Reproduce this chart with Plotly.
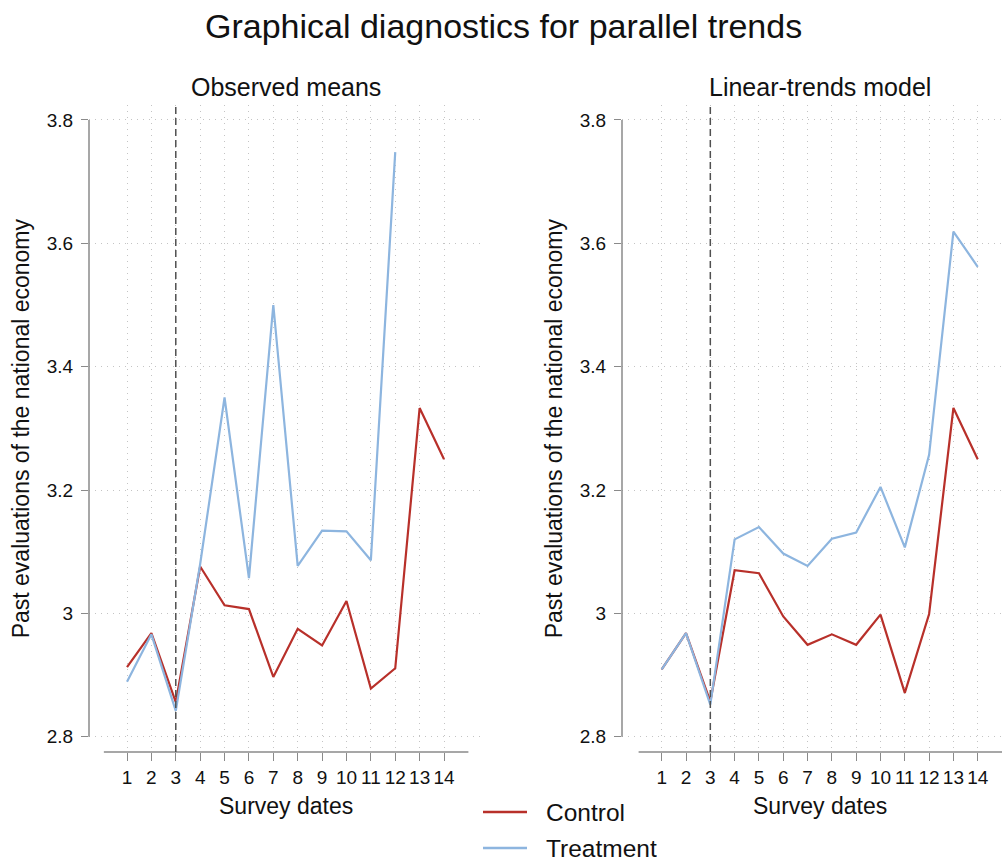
import plotly.graph_objects as go

# ---- data -------------------------------------------------------------
dates = list(range(1, 15))
date_labels = [str(d) for d in dates]

# Observed means (treatment series only runs through survey 12)
obs_control = [2.913, 2.968, 2.856, 3.076, 3.013, 3.007, 2.897, 2.975, 2.948, 3.020, 2.878, 2.911, 3.333, 3.250]
obs_treatment = [2.889, 2.966, 2.842, 3.080, 3.350, 3.057, 3.500, 3.077, 3.134, 3.133, 3.086, 3.748]

# Linear-trends model predictions
lin_control = [2.909, 2.968, 2.857, 3.070, 3.065, 2.995, 2.949, 2.966, 2.949, 2.998, 2.871, 2.999, 3.333, 3.250]
lin_treatment = [2.909, 2.968, 2.852, 3.120, 3.140, 3.097, 3.077, 3.121, 3.131, 3.205, 3.107, 3.257, 3.619, 3.562]

y_ticks = [2.8, 3.0, 3.2, 3.4, 3.6, 3.8]
y_tick_labels = ["2.8", "3", "3.2", "3.4", "3.6", "3.8"]
treatment_start = 3

panel_titles = ["Observed means", "Linear-trends model"]
series_names = ["Control", "Treatment"]

# ---- styling ----------------------------------------------------------
W, H = 1006, 860
FONT = "Liberation Sans, Arial, Helvetica, sans-serif"
RED = "#b8302a"
BLUE = "#8db5df"
AXIS_GREY = "#8a8a8a"
GRID_GREY = "#c4c4c4"
TEXT = "#111111"

# panel geometry in pixels: (left, right) of the plot box, x range
Y_TOP_PX, Y_BOT_PX = 105, 752
Y_RANGE = [2.7752, 3.8243]
panels = [
    dict(px=(89, 482), xrange=[-0.559, 15.558]),
    dict(px=(622, 1006), xrange=[-0.633, 15.163]),
]
X_LINE_SPAN = (0.05, 15.0)


def dom_x(px):
    return px / W


def dom_y(py):
    return 1 - py / H


y_domain = [dom_y(Y_BOT_PX), dom_y(Y_TOP_PX)]


def data_to_paper(v, dom, rng):
    return dom[0] + (v - rng[0]) / (rng[1] - rng[0]) * (dom[1] - dom[0])


fig = go.Figure()

datasets = [(obs_control, obs_treatment), (lin_control, lin_treatment)]
for i, (ctrl, trt) in enumerate(datasets):
    xa = "x" if i == 0 else "x2"
    ya = "y" if i == 0 else "y2"
    fig.add_trace(go.Scatter(x=dates[:len(ctrl)], y=ctrl, mode="lines",
                             line=dict(color=RED, width=2.2), name=series_names[0],
                             showlegend=False, xaxis=xa, yaxis=ya))
    fig.add_trace(go.Scatter(x=dates[:len(trt)], y=trt, mode="lines",
                             line=dict(color=BLUE, width=2.2), name=series_names[1],
                             showlegend=False, xaxis=xa, yaxis=ya))

axis_common = dict(showline=False, zeroline=False, showgrid=True,
                   gridcolor=GRID_GREY, griddash="1px,5px", gridwidth=1,
                   ticks="outside", tickcolor=AXIS_GREY, tickwidth=1.4,
                   tickfont=dict(family=FONT, size=19, color=TEXT))

layout = dict(width=W, height=H, autosize=False,
              margin=dict(l=0, r=0, t=0, b=0),
              paper_bgcolor="white", plot_bgcolor="white",
              showlegend=False, font=dict(family=FONT, color=TEXT))

shapes = []
annotations = []
for i, p in enumerate(panels):
    sfx = "" if i == 0 else "2"
    xdom = [dom_x(p["px"][0]), dom_x(p["px"][1])]
    layout["xaxis" + sfx] = dict(domain=xdom, range=p["xrange"], anchor="y" + sfx,
                                 tickmode="array", tickvals=dates, ticktext=date_labels,
                                 ticklen=8, **axis_common)
    layout["yaxis" + sfx] = dict(domain=y_domain, range=Y_RANGE, anchor="x" + sfx,
                                 tickmode="array", tickvals=y_ticks, ticktext=y_tick_labels,
                                 ticklen=7, ticklabelstandoff=4, **axis_common)

    # detached axis lines
    shapes.append(dict(type="line", xref="paper", yref="paper",
                       x0=xdom[0], x1=xdom[0],
                       y0=data_to_paper(y_ticks[0], y_domain, Y_RANGE),
                       y1=data_to_paper(y_ticks[-1], y_domain, Y_RANGE),
                       line=dict(color=AXIS_GREY, width=1.5)))
    shapes.append(dict(type="line", xref="paper", yref="paper",
                       x0=data_to_paper(X_LINE_SPAN[0], xdom, p["xrange"]),
                       x1=data_to_paper(X_LINE_SPAN[1], xdom, p["xrange"]),
                       y0=y_domain[0], y1=y_domain[0],
                       line=dict(color=AXIS_GREY, width=1.5)))
    # treatment onset marker
    shapes.append(dict(type="line", xref="x" + sfx, yref="y" + sfx + " domain",
                       x0=treatment_start, x1=treatment_start, y0=0, y1=1,
                       line=dict(color="#505050", width=1.5, dash="7px,4px")))

    centre_x = data_to_paper((dates[0] + dates[-1]) / 2, xdom, p["xrange"])
    annotations.append(dict(text=panel_titles[i], xref="paper", yref="paper",
                            x=centre_x, y=dom_y(87), xanchor="center", yanchor="middle",
                            showarrow=False, font=dict(family=FONT, size=25, color=TEXT)))
    annotations.append(dict(text="Survey dates", xref="paper", yref="paper",
                            x=centre_x, y=dom_y(806), xanchor="center", yanchor="middle",
                            showarrow=False, font=dict(family=FONT, size=23, color=TEXT)))
    annotations.append(dict(text="Past evaluations of the national economy",
                            xref="paper", yref="paper",
                            x=dom_x(21 if i == 0 else 554),
                            y=data_to_paper(3.3, y_domain, Y_RANGE),
                            xanchor="center", yanchor="middle", textangle=-90,
                            showarrow=False, font=dict(family=FONT, size=23, color=TEXT)))

# overall title
annotations.append(dict(text="Graphical diagnostics for parallel trends",
                        xref="paper", yref="paper", x=0.5, y=dom_y(26),
                        xanchor="center", yanchor="middle", showarrow=False,
                        font=dict(family=FONT, size=34, color=TEXT)))

# legend keys
for name, color, py in [(series_names[0], RED, 812), (series_names[1], BLUE, 848)]:
    shapes.append(dict(type="line", xref="paper", yref="paper",
                       x0=dom_x(483), x1=dom_x(527), y0=dom_y(py), y1=dom_y(py),
                       line=dict(color=color, width=2.5)))
    annotations.append(dict(text=name, xref="paper", yref="paper",
                            x=dom_x(544), y=dom_y(py), xanchor="left", yanchor="middle",
                            height=22, valign="middle",
                            showarrow=False, font=dict(family=FONT, size=24.5, color=TEXT)))

layout["shapes"] = shapes
layout["annotations"] = annotations
fig.update_layout(**layout)

fig.write_html("out.html")
